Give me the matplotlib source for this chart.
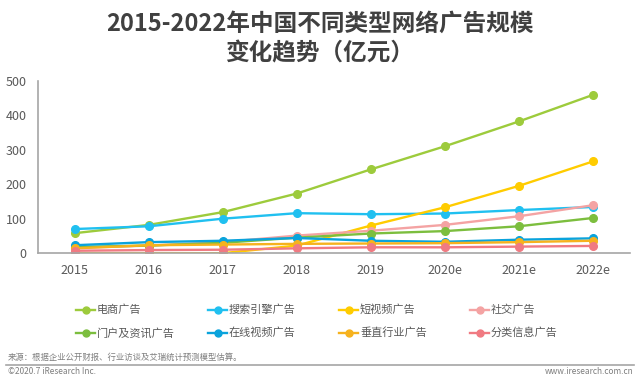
import matplotlib
matplotlib.use('Agg')
import matplotlib.pyplot as plt
from matplotlib.lines import Line2D

plt.rcParams['font.family'] = ['Noto Sans CJK SC', 'DejaVu Sans']

# данные
years = ['2015', '2016', '2017', '2018', '2019', '2020e', '2021e', '2022e']
names = ['电商广告', '搜索引擎广告', '短视频广告', '社交广告',
         '门户及资讯广告', '在线视频广告', '垂直行业广告', '分类信息广告']
ecommerce = [58, 82, 119, 173, 243, 310, 382, 459]
search = [70, 78, 100, 116, 113, 115, 125, 134]
short_video = [0, 0, 0, 22, 80, 133, 195, 266]
social = [15, 22, 32, 51, 65, 82, 107, 139]
portal = [18, 22, 30, 45, 57, 64, 78, 102]
online_video = [23, 32, 36, 44, 36, 33, 39, 43]
vertical = [14, 23, 25, 27, 28, 29, 32, 36]
classified = [7, 9, 10, 14, 17, 17, 19, 21]

series = [ecommerce, search, short_video, social, portal, online_video, vertical, classified]
colors = ['#9DCB3C', '#20C0F0', '#FFCC00', '#F4A3A3',
          '#7CBE3E', '#0AA3DC', '#F6B21E', '#F07A82']

W, H = 640, 383
fig = plt.figure(figsize=(6.4, 3.83), dpi=100)
ax = fig.add_axes([0.059, 0.339, 0.925, 0.45])

x = list(range(len(years)))
for vals, c in zip(series, colors):
    ax.plot(x, vals, color=c, lw=1.7, marker='o', ms=5.5)

ax.set_xlim(-0.5, 7.5)
ax.set_ylim(0, 500)
ax.set_xticks(x)
ax.set_xticklabels(years)
ax.set_yticks(range(0, 501, 100))
ax.tick_params(length=0, labelsize=9, colors='#595959', pad=8)
for s in ['top', 'right']:
    ax.spines[s].set_visible(False)
for s in ['left', 'bottom']:
    ax.spines[s].set_color('#A6A6A6')
    ax.spines[s].set_linewidth(1.2)

# заголовок
fig.text(0.5, 1 - 24 / H, '2015-2022年中国不同类型网络广告规模', ha='center', va='center',
         fontsize=17, fontweight='bold', color='#404040')
fig.text(0.5, 1 - 53 / H, '变化趋势（亿元）', ha='center', va='center',
         fontsize=17, fontweight='bold', color='#404040')

# легенда: 4 колонки, 2 строки
col_x = [76, 208, 339, 470]
row_y = [310, 333]
for i, (name, c) in enumerate(zip(names, colors)):
    px = col_x[i % 4]
    py = 1 - row_y[i // 4] / H
    fig.add_artist(Line2D([px / W, (px + 19) / W], [py, py], color=c, lw=1.7))
    fig.add_artist(Line2D([(px + 9.5) / W], [py], color=c, marker='o', ms=5))
    fig.text((px + 21) / W, py, name, fontsize=8, color='#595959', va='center')

# подвал
fig.text(0.012, 1 - 357 / H, '来源：根据企业公开财报、行业访谈及艾瑞统计预测模型估算。',
         fontsize=6, color='#7F7F7F', va='center')
fig.add_artist(Line2D([0.01, 0.99], [1 - 365 / H, 1 - 365 / H], color='#A6A6A6', lw=1.2))
fig.text(0.012, 1 - 371 / H, '©2020.7 iResearch Inc.', fontsize=6, color='#7F7F7F', va='center')
fig.text(0.99, 1 - 371 / H, 'www.iresearch.com.cn', fontsize=6, color='#7F7F7F',
         va='center', ha='right')

plt.savefig('out.png', dpi=100)
